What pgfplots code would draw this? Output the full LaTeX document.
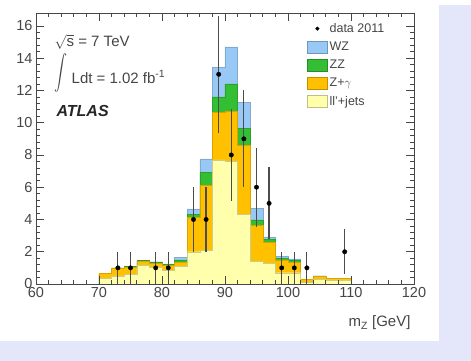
\documentclass[border=0pt]{standalone}
\usepackage{fontspec}
\setmainfont{Liberation Sans}
\usepackage{graphicx}
\usepackage{pgfplots}
\usepackage{pgfplotstable}
\pgfplotsset{compat=1.18}

\definecolor{bgl}{RGB}{228,230,250}
\definecolor{wzc}{RGB}{152,200,245}
\definecolor{zzc}{RGB}{52,190,52}
\definecolor{zgc}{RGB}{255,192,0}
\definecolor{llc}{RGB}{255,255,172}
\definecolor{axc}{RGB}{70,70,70}

% cumulative stack heights per 2 GeV bin (left edge), last row closes the step
\pgfplotstableread{
x    yel   orn    grn    blu
70   0.35  0.65   0.65   0.65
72   0.50  0.95   1.00   1.00
74   0.60  1.05   1.10   1.10
76   1.15  1.40   1.45   1.45
78   1.05  1.30   1.35   1.38
80   0.85  1.15   1.20   1.25
82   1.10  1.35   1.50   1.65
84   2.00  4.15   4.30   4.65
86   2.10  6.10   6.90   7.75
88   7.70  10.65  11.60  13.45
90   7.60  10.70  12.40  14.70
92   4.30  8.60   9.65   11.25
94   1.40  3.65   3.97   4.70
96   1.30  2.60   2.75   2.92
98   0.70  1.50   1.60   1.70
100  0.70  1.35   1.45   1.55
102  0.10  0.28   0.30   0.30
104  0.30  0.48   0.50   0.50
106  0.25  0.35   0.36   0.36
108  0.25  0.35   0.36   0.36
110  0.25  0.35   0.36   0.36
}\stacktab

% observed events with sqrt(N) uncertainties
\pgfplotstableread{
x    y   e
73   1   1
75   1   1
79   1   1
81   1   1
85   4   2
87   4   2
89   13  3.61
91   8   2.83
93   9   3
95   6   2.45
97   5   2.24
99   1   1
101  1   1
103  1   1
109  2   1.41
}\datatab

\begin{document}
\begin{tikzpicture}
\useasboundingbox (0pt,0pt) rectangle (471pt,361pt);
\fill[bgl] (0pt,0pt) rectangle (471pt,361pt);
\fill[white] (0pt,20pt) rectangle (439pt,361pt);
\fill[white] (439pt,356pt) rectangle (471pt,361pt);
\begin{axis}[
  at={(36pt,77pt)}, anchor=south west,
  scale only axis, width=378pt, height=271pt,
  xmin=60, xmax=120, ymin=0, ymax=16.8,
  xtick={60,70,...,120}, ytick={0,2,...,16},
  minor x tick num=4, minor y tick num=4,
  major tick length=8pt, minor tick length=4pt,
  tick align=inside,
  axis line style={axc, line width=0.8pt},
  every tick/.style={axc, line width=0.7pt},
  tick label style={font=\fontsize{14.5}{16}\selectfont, text=axc},
  /pgf/number format/assume math mode=true,
  axis on top,
  xlabel={m\textsubscript{Z} [GeV]},
  xlabel style={at={(rel axis cs:1,0)}, anchor=east, yshift=-39pt,
    font=\fontsize{15}{17}\selectfont, text=axc},
  legend cell align=left,
  legend style={at={(rel axis cs:0.717,0.97)}, anchor=north west,
    draw=none, fill=none, font=\fontsize{12.5}{14}\selectfont, text=axc,
    row sep=4pt, inner sep=0pt},
]
\addlegendimage{legend image code/.code={\fill[black] (10pt,0pt) circle (1.8pt);}}
\addlegendentry{data 2011}
\addlegendimage{legend image code/.code={\draw[fill=wzc, draw=wzc!75!black] (0pt,-6pt) rectangle (20pt,6pt);}}
\addlegendentry{WZ}
\addlegendimage{legend image code/.code={\draw[fill=zzc, draw=zzc!75!black] (0pt,-6pt) rectangle (20pt,6pt);}}
\addlegendentry{ZZ}
\addlegendimage{legend image code/.code={\draw[fill=zgc, draw=zgc!75!black] (0pt,-6pt) rectangle (20pt,6pt);}}
\addlegendentry{Z+$\gamma$}
\addlegendimage{legend image code/.code={\draw[fill=llc, draw=llc!75!black] (0pt,-6pt) rectangle (20pt,6pt);}}
\addlegendentry{ll'+jets}

\addplot[const plot mark left, mark=none, fill=wzc, draw=wzc!85!black, line width=0.4pt, forget plot]
  table[x=x, y=blu]{\stacktab} \closedcycle;
\addplot[const plot mark left, mark=none, fill=zzc, draw=zzc!85!black, line width=0.4pt, forget plot]
  table[x=x, y=grn]{\stacktab} \closedcycle;
\addplot[const plot mark left, mark=none, fill=zgc, draw=zgc!85!black, line width=0.4pt, forget plot]
  table[x=x, y=orn]{\stacktab} \closedcycle;
\addplot[const plot mark left, mark=none, fill=llc, draw=llc!80!black, line width=0.4pt, forget plot]
  table[x=x, y=yel]{\stacktab} \closedcycle;

\addplot[only marks, mark=*, mark size=2.2pt, black, forget plot,
  error bars/.cd, y dir=both, y explicit,
  error bar style={line width=1.2pt, black!70}, error mark=none]
  table[x=x, y=y, y error=e]{\datatab};

\node[anchor=west, font=\fontsize{15}{17}\selectfont, text=axc]
  at (rel axis cs:0.040,0.893) {$\sqrt{\mathrm{s}}$ = 7 TeV};
\node[anchor=west, text=axc, inner sep=0pt]
  at (rel axis cs:0.048,0.780) {\fontsize{15}{17}\selectfont\scalebox{1.3}[1.75]{$\displaystyle\int$}};
\node[anchor=west, font=\fontsize{15}{17}\selectfont, text=axc]
  at (rel axis cs:0.085,0.764) {Ldt = 1.02 fb\textsuperscript{-1}};
\node[anchor=west, font=\fontsize{16}{18}\selectfont\bfseries\itshape, text=black!85]
  at (rel axis cs:0.045,0.638) {ATLAS};
\end{axis}
\end{tikzpicture}
\end{document}
